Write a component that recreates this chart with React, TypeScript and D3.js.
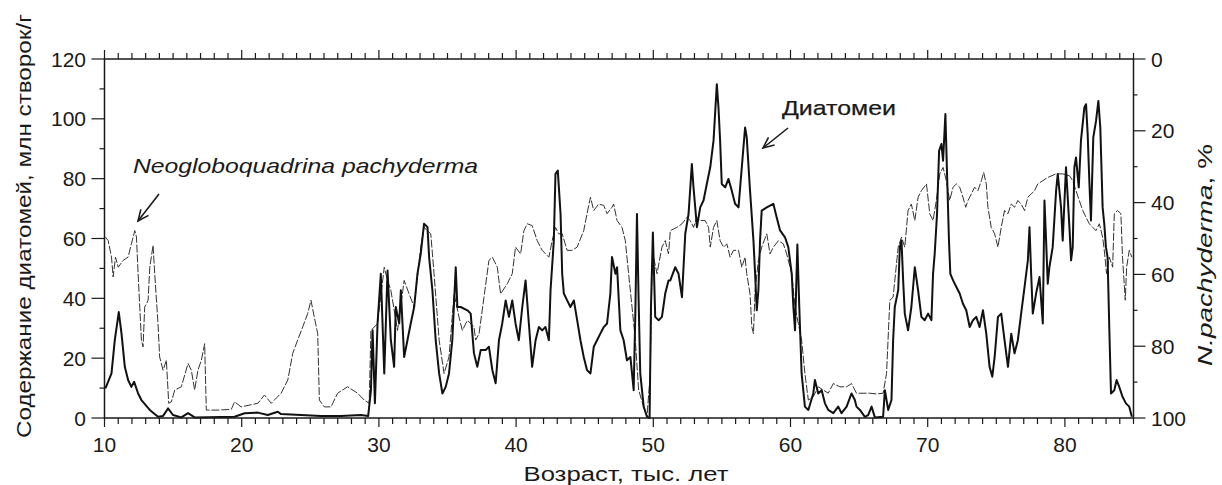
import React from "react";
import * as d3 from "d3";

const W = 1222;
const H = 485;

const xTickLabels = [10, 20, 30, 40, 50, 60, 70, 80];
const leftTickLabels = [0, 20, 40, 60, 80, 100, 120];
const rightTickLabels = [0, 20, 40, 60, 80, 100];

// Diatom content, mln valves/g  [age ka, value]
const diatoms: [number, number][] = [
  [10.07,9.9],[10.51,14.9],[10.75,26],[11.04,35.4],[11.24,28.2],[11.48,17.1],[11.72,12.7],[11.96,10.4],[12.16,12.1],[12.45,8.2],[12.69,6],[13.3,2.7],[13.9,0.4],[14.27,0.7],[14.63,3.2],[14.99,1],[15.6,0.2],[16.09,1.6],[16.57,0.2],[19.48,0.4],[20.21,1.6],[21.18,1.8],[21.9,1],[22.63,2.1],[22.87,1.3],[24.32,1],[25.78,0.7],[27.23,0.7],[28.69,1],[29.22,0.7],
  [29.42,9.3],[29.54,29.3],[29.71,4.9],[29.9,31.6],[30.14,48.2],[30.39,14.9],[30.63,49.3],[30.87,26],[31.11,17.1],[31.23,37.1],[31.48,31.6],[31.6,42.7],[31.84,20.4],[32.08,26],[32.32,31.6],[32.57,37.1],[32.81,48.2],[33.05,54.9],[33.29,64.9],[33.54,63.8],[33.66,53.8],[33.9,42.7],[34.14,26],[34.39,14.9],[34.63,8.2],[34.87,10.4],[35.11,14.9],[35.35,26],[35.6,50.4],[35.72,37.1],[35.96,37.1],[36.45,36],[36.69,34.9],[36.93,21.6],[37.17,17.1],[37.42,22.7],[37.78,22.7],[38.02,23.8],[38.27,16],[38.51,11.6],[38.75,26],[38.99,31.6],[39.24,39.3],[39.48,33.8],[39.72,39.3],[39.96,31.6],[40.2,26],[40.45,37.1],[40.69,46],[40.93,31.6],[41.17,17.1],[41.42,26],[41.66,30.4],[41.9,29.3],[42.14,30.4],[42.39,26],[42.51,42.7],[42.75,59.3],[42.87,81.6],[43.04,82.7],[43.24,68.2],[43.36,48.2],[43.48,41.6],[43.72,39.3],[43.96,37.1],[44.21,39.3],[44.45,32.7],[44.69,26],[44.93,20.4],[45.17,16],[45.42,14.9],[45.66,23.8],[45.9,26],[46.14,28.2],[46.39,30.4],[46.63,31.6],[46.87,41.6],[46.99,53.8],[47.24,48.2],[47.36,50.4],[47.6,29.3],[47.84,26],[48.08,19.3],[48.33,20.4],[48.57,9.3],[48.69,34.9],[48.81,68.2],[48.93,39.3],[49.05,14.9],[49.3,3.8],[49.54,0.4],[49.73,0],[49.83,37.1],[49.97,62],[50.14,33.8],[50.39,32.7],[50.63,33.8],[50.87,41.6],[51.11,46],[51.24,46],[51.6,50.4],[51.84,48.2],[52.09,40.4],[52.33,61.6],[52.57,68.2],[52.81,84.9],[52.93,77.1],[53.18,63.8],[53.42,70.4],[53.66,72.7],[53.9,78.2],[54.15,83.8],[54.39,92.7],[54.63,111.6],[54.75,103.8],[54.87,92.7],[54.99,78.2],[55.24,77.1],[55.48,79.9],[55.72,76],[55.96,71.6],[56.21,70.4],[56.45,83.8],[56.69,97.1],[56.81,93.8],[57.05,76],[57.3,59.3],[57.42,48.2],[57.54,36],[57.66,42.7],[57.78,59.3],[57.9,69.3],[58.27,70.4],[58.75,71.6],[58.99,67.1],[59.24,62.7],[59.6,60.4],[59.84,57.1],[60.09,48.2],[60.21,37.1],[60.33,29.3],[60.5,58],[60.64,37.1],[60.81,14.9],[61.05,3.8],[61.3,2.7],[61.66,8.2],[61.78,12.7],[62.02,8.2],[62.27,9.3],[62.51,4.9],[62.75,2.7],[63.12,1.6],[63.48,3.8],[63.72,1.6],[64.09,3.8],[64.45,8.2],[64.69,6],[64.81,3.8],[65.06,2.7],[65.42,0.4],[65.66,1],[65.91,3.8],[66.15,0.2],[66.75,0.4],[66.88,9.3],[67.12,2.7],[67.36,6],[67.48,26],[67.6,37.1],[67.85,42.7],[67.97,57.1],[68.09,59.3],[68.21,46],[68.33,34.9],[68.57,29.3],[68.81,37.1],[69.06,50.4],[69.3,42.7],[69.54,33.8],[69.78,32.7],[70.03,34.9],[70.27,32.7],[70.39,48.2],[70.51,54.9],[70.68,68.2],[70.83,89.3],[71,91.6],[71.12,86],[71.29,101.6],[71.41,81.6],[71.55,59.3],[71.65,48.2],[71.85,46],[72.09,43.8],[72.33,41.6],[72.57,38.2],[72.81,36],[73.06,30.4],[73.3,32.7],[73.54,33.8],[73.78,30.4],[74.03,36],[74.27,28.2],[74.51,17.1],[74.71,13.8],[74.88,20.4],[75.12,33.8],[75.36,34.9],[75.6,26],[75.85,17.1],[76.09,28.2],[76.33,21.6],[76.57,26],[76.81,34.9],[77.06,43.8],[77.3,52.7],[77.42,63.8],[77.54,48.2],[77.66,34.9],[77.9,41.6],[78.15,47.1],[78.39,31.6],[78.51,72.7],[78.63,59.3],[78.75,44.9],[78.87,50.4],[79.11,57.1],[79.36,76],[79.48,81.6],[79.72,70.4],[79.84,59.3],[80.08,83.8],[80.33,63.8],[80.45,52.7],[80.57,57.1],[80.69,83.8],[80.81,87.1],[81.01,77.1],[81.17,92.7],[81.42,103.8],[81.54,104.9],[81.66,94.9],[81.78,79.3],[81.9,66],[82.07,93.8],[82.27,99.3],[82.44,106],[82.58,97.1],[82.75,70.4],[82.87,64.9],[82.99,57.1],[83.11,53.8],[83.24,29.3],[83.36,8.2],[83.6,9.3],[83.77,12.7],[83.96,10.4],[84.2,7.1],[84.45,4.9],[84.69,3.8],[84.88,0.4]
];

// N. pachyderma, %  [age ka, percent]  (right axis, reversed)
const pachyderma: [number, number][] = [
  [10.07,49.6],[10.27,50.6],[10.51,55.2],[10.63,60.7],[10.8,55.2],[11.0,58],[11.36,56.1],[11.72,55.2],[11.96,51.5],[12.21,47.8],[12.33,49.6],[12.45,59.8],[12.57,69.1],[12.69,78.3],[12.81,80.2],[12.93,69.1],[13.18,67.2],[13.3,58],[13.54,51.9],[13.66,59.8],[13.9,73.7],[14.02,83],[14.27,86.7],[14.51,83.9],[14.68,95.9],[14.87,95.5],[15.12,92.2],[15.6,91.3],[16.09,84.8],[16.33,86.7],[16.57,92.2],[16.81,86.7],[17.06,83.9],[17.3,79.3],[17.42,97.8],[18.27,97.8],[19.24,97.6],[19.48,95.5],[19.96,96.9],[21.18,95.9],[21.66,93.6],[22.15,95.9],[22.87,93.1],[23.36,89.4],[23.72,82],[24.08,78.3],[24.45,74.6],[24.81,70.9],[25.05,67.2],[25.29,71.9],[25.54,76.5],[25.66,95],[26.02,96.9],[26.51,96.9],[26.99,93.1],[27.72,91.3],[28.45,93.1],[28.93,95],[29.29,95.9],
  [29.42,75.6],[29.9,73.7],[30.39,58],[30.63,61.7],[30.87,64.4],[31.36,75.6],[31.84,61.7],[32.2,65.4],[32.57,69.1],[33.05,52.4],[33.29,46.9],[33.78,48.7],[34.02,59.8],[34.39,78.3],[34.75,87.6],[35.11,83],[35.48,65.4],[35.84,71.9],[36.08,75.6],[36.45,72.8],[36.93,74.6],[37.05,78.3],[37.3,76.5],[37.66,66.3],[38.02,56.1],[38.27,55.2],[38.63,58],[38.87,65.4],[39.36,62.6],[39.72,59.8],[39.96,52.4],[40.33,54.3],[40.57,47.8],[40.81,45.9],[41.17,46.4],[41.54,50.6],[41.9,53.3],[42.39,55.2],[42.63,50.6],[42.87,46.9],[43.11,48.7],[43.36,48.7],[43.72,53.3],[44.08,53.3],[44.45,52.4],[44.93,47.8],[45.17,43.1],[45.42,38.5],[45.66,42.2],[46.02,40.4],[46.39,40.8],[46.63,43.1],[46.99,41.3],[47.11,40.4],[47.36,45],[47.72,46.9],[47.96,50.6],[48.2,59.8],[48.45,69.1],[48.69,78.3],[48.93,92.2],[49.3,96.9],[49.54,99.6],[49.78,87.6],[49.9,59.8],[50.02,55.2],[50.27,59.8],[50.63,52.4],[50.87,50.6],[51.11,54.3],[51.24,47.8],[51.72,46.9],[52.09,45.9],[52.45,44.1],[52.69,45],[52.93,46.9],[53.18,44.1],[53.42,45],[53.78,45],[54.03,46.9],[54.15,52.4],[54.39,46.9],[54.63,45],[54.87,50.6],[55.12,52.4],[55.36,51.5],[55.6,55.2],[55.84,53.3],[56.21,53.3],[56.45,58],[56.69,55.2],[56.81,59.8],[57.05,65.4],[57.18,74.6],[57.3,76.5],[57.42,64.4],[57.66,56.1],[57.9,52.4],[58.27,48.7],[58.51,54.3],[58.75,52.4],[59.12,50.6],[59.48,51.5],[59.72,54.3],[60.09,59.8],[60.33,69.1],[60.57,73.7],[60.81,78.3],[61.05,87.6],[61.3,95],[61.66,94.1],[62.02,91.3],[62.39,92.2],[62.75,93.1],[63.12,90.4],[63.6,91.3],[64.09,91.3],[64.45,90.4],[64.81,93.1],[65.3,93.1],[65.78,93.1],[66.27,93.3],[66.75,93.1],[67,87.6],[67.24,67.2],[67.48,66.3],[67.85,52.4],[68.09,49.6],[68.33,52.4],[68.57,42.2],[68.81,40.4],[69.06,45],[69.3,38.5],[69.54,36.7],[69.91,34.8],[70.15,43.1],[70.39,45],[70.63,39.4],[70.88,32],[71.12,30.2],[71.36,33.9],[71.6,39.4],[71.85,35.7],[72.09,34.8],[72.33,35.7],[72.57,38.5],[72.77,41.3],[72.94,39.4],[73.18,37.6],[73.42,35.7],[73.66,36.7],[73.91,33.9],[74.08,31.6],[74.27,34.8],[74.39,41.3],[74.63,46.9],[74.88,48.7],[75.12,52.4],[75.36,46.9],[75.6,42.2],[75.85,43.1],[76.09,40.4],[76.33,41.3],[76.57,39.4],[76.81,40.4],[77.06,42.2],[77.3,38.5],[77.54,37.6],[77.78,36.7],[78.03,34.8],[78.39,33.9],[78.75,33],[79.36,32],[79.84,32],[80.33,32.5],[80.57,33.9],[80.81,36.7],[81.05,39.4],[81.3,42.2],[81.54,44.1],[81.78,45.9],[82.02,46.9],[82.27,47.8],[82.51,45.9],[82.75,49.6],[82.87,53.3],[83.04,59.8],[83.24,55.2],[83.48,58],[83.6,43.1],[83.84,42.2],[84.08,43.1],[84.2,55.2],[84.4,67.2],[84.5,58],[84.69,53.3],[84.88,55.2]
];

const FONT = "'Liberation Sans', Arial, Helvetica, sans-serif";
const INK = "#1a1a1a";

function Arrow({ x1, y1, x2, y2 }: { x1: number; y1: number; x2: number; y2: number }) {
  const a = Math.atan2(y2 - y1, x2 - x1);
  const L = 12;
  const s = 0.42;
  const p1 = [x2 - L * Math.cos(a - s), y2 - L * Math.sin(a - s)];
  const p2 = [x2 - L * Math.cos(a + s), y2 - L * Math.sin(a + s)];
  return (
    <g stroke={INK} strokeWidth={1.6} fill="none">
      <line x1={x1} y1={y1} x2={x2} y2={y2} />
      <polyline points={`${p1[0]},${p1[1]} ${x2},${y2} ${p2[0]},${p2[1]}`} />
    </g>
  );
}

export default function App() {
  const x0 = 104.5, x1 = 1133.5, yTop = 59, yBot = 418;
  const x = d3.scaleLinear().domain([10, 85]).range([x0, x1]);
  const yL = d3.scaleLinear().domain([0, 120]).range([yBot, yTop]);
  const yR = d3.scaleLinear().domain([0, 100]).range([yTop, yBot]);

  const lineD = d3.line<[number, number]>().x((d) => x(d[0])).y((d) => yL(d[1]));
  const lineP = d3.line<[number, number]>().x((d) => x(d[0])).y((d) => yR(d[1]));

  const yearTicks = d3.range(10, 86, 1);
  const leftMinor = d3.range(10, 120, 20);
  const rightMinor = d3.range(10, 100, 20);

  return (
    <svg
      width={W}
      height={H}
      style={{ position: "absolute", left: 0, top: 0, background: "#fff" }}
      fontFamily={FONT}
    >
      <rect x={0} y={0} width={W} height={H} fill="#fff" />

      {/* series */}
      <path d={lineP(pachyderma) || ""} fill="none" stroke="#333" strokeWidth={1} strokeDasharray="8 1.8" />
      <path d={lineD(diatoms) || ""} fill="none" stroke="#111" strokeWidth={2} strokeLinejoin="round" />

      {/* frame */}
      <rect x={x0} y={yTop} width={x1 - x0} height={yBot - yTop} fill="none" stroke={INK} strokeWidth={1.5} />

      {/* bottom & top ticks */}
      {yearTicks.map((t) => {
        const major = t % 10 === 0;
        return (
          <g key={"xt" + t} stroke={INK} strokeWidth={1.2}>
            <line x1={x(t)} x2={x(t)} y1={yBot} y2={yBot + (major ? 9 : 6)} />
            <line x1={x(t)} x2={x(t)} y1={yTop} y2={yTop - (major ? 9 : 6)} />
          </g>
        );
      })}
      {xTickLabels.map((t) => (
        <text key={"xl" + t} x={x(t)} y={452} textAnchor="middle" fontSize={21} fill={INK}>
          {t}
        </text>
      ))}

      {/* left axis */}
      {leftTickLabels.map((t) => (
        <line key={"lt" + t} x1={x0 - 13} x2={x0} y1={yL(t)} y2={yL(t)} stroke={INK} strokeWidth={1.2} />
      ))}
      {leftMinor.map((t) => (
        <line key={"lm" + t} x1={x0 - 5} x2={x0} y1={yL(t)} y2={yL(t)} stroke={INK} strokeWidth={1.2} />
      ))}
      {leftTickLabels.map((t) => (
        <text key={"ll" + t} x={86} y={yL(t) + 7.5} textAnchor="end" fontSize={21} fill={INK}>
          {t}
        </text>
      ))}

      {/* right axis */}
      {rightTickLabels.map((t) => (
        <line key={"rt" + t} x1={x1} x2={x1 + 12} y1={yR(t)} y2={yR(t)} stroke={INK} strokeWidth={1.2} />
      ))}
      {rightMinor.map((t) => (
        <line key={"rm" + t} x1={x1} x2={x1 + 4} y1={yR(t)} y2={yR(t)} stroke={INK} strokeWidth={1.2} />
      ))}
      {rightTickLabels.map((t) => (
        <text key={"rl" + t} x={1151} y={yR(t) + 7.5} textAnchor="start" fontSize={21} fill={INK}>
          {t}
        </text>
      ))}

      {/* axis titles */}
      <text
        transform={`translate(31, 226) rotate(-90)`}
        textAnchor="middle"
        fontSize={20}
        fill={INK}
        textLength={424}
        lengthAdjust="spacingAndGlyphs"
      >
        Содержание диатомей, млн створок/г
      </text>
      <text
        transform={`translate(1212, 255) rotate(-90)`}
        textAnchor="middle"
        fontSize={20}
        fill={INK}
        textLength={222}
        lengthAdjust="spacingAndGlyphs"
      >
        <tspan fontStyle="italic">N.pachyderma</tspan>, %
      </text>
      <text
        x={626}
        y={481}
        textAnchor="middle"
        fontSize={20}
        fill={INK}
        textLength={205}
        lengthAdjust="spacingAndGlyphs"
      >
        Возраст, тыс. лет
      </text>

      {/* annotations */}
      <text
        x={133}
        y={173}
        fontSize={21}
        fontStyle="italic"
        fill={INK}
        textLength={345}
        lengthAdjust="spacingAndGlyphs"
      >
        Neogloboquadrina pachyderma
      </text>
      <Arrow x1={159} y1={194} x2={138} y2={221} />
      <text
        x={782}
        y={115}
        fontSize={21}
        fill={INK}
        stroke={INK}
        strokeWidth={0.25}
        textLength={114}
        lengthAdjust="spacingAndGlyphs"
      >
        Диатомеи
      </text>
      <Arrow x1={788} y1={128} x2={763} y2={148} />
    </svg>
  );
}
